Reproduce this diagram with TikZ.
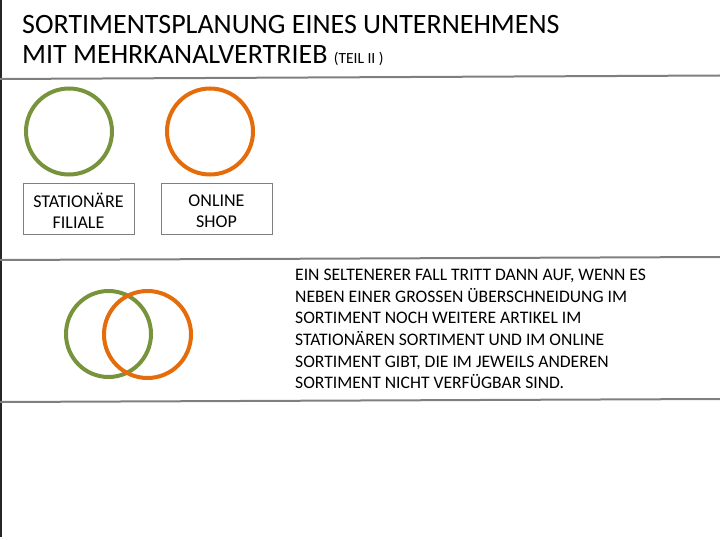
\documentclass[tikz,border=0pt]{standalone}
\usepackage{fontspec}
\setmainfont{Carlito}
\definecolor{olivegreen}{HTML}{77933C}
\definecolor{shoporange}{HTML}{E46C0A}
\definecolor{rulegray}{HTML}{7F7F7F}
\tikzset{
  ring/.style={line width=4pt},
  rule/.style={draw=rulegray, line width=2pt},
  labelbox/.style={draw=rulegray, line width=0.8pt, minimum width=111pt, minimum height=51pt, inner sep=0pt},
  boxtext/.style={align=center, font=\fontsize{18}{21}\selectfont, inner sep=0pt},
  titletext/.style={anchor=base west, inner sep=0pt, font=\fontsize{28}{32}\selectfont},
  bodytext/.style={anchor=north west, inner sep=0pt, align=left, font=\fontsize{17.6}{21.6}\selectfont}
}
\begin{document}
\begin{tikzpicture}[x=1pt,y=-1pt]
\useasboundingbox (0,0) rectangle (720,540);
% frame lines
\coordinate (vtop) at (1,0);
\coordinate (vbot) at (1,537);
\draw[line width=1.5pt, black!85] (vtop) -- (vbot);
\coordinate (r1a) at (0,79);   \coordinate (r1b) at (720,75.5);
\coordinate (r2a) at (0,260);  \coordinate (r2b) at (720,257);
\coordinate (r3a) at (0,402);  \coordinate (r3b) at (720,399);
\draw[rule] (r1a) -- (r1b);
\draw[rule] (r2a) -- (r2b);
\draw[rule] (r3a) -- (r3b);
% title
\node[titletext] (t1) at (22,34) {SORTIMENTSPLANUNG EINES UNTERNEHMENS};
\node[titletext] (t2) at (22,63.5) {MIT MEHRKANALVERTRIEB {\fontsize{15.5}{17}\selectfont (TEIL II )}};
% top circles
\draw[ring, olivegreen] (69,131.5) ellipse [x radius=43, y radius=43];
\draw[ring, shoporange] (210,131.5) ellipse [x radius=43, y radius=43];
% boxes
\node[labelbox] (b1) at (78.5,208.5) {};
\node[labelbox] (b2) at (216.5,208.5) {};
\node[boxtext] (b1t) at ([yshift=-2pt]b1.center) {STATIONÄRE\\FILIALE};
\node[boxtext] (b2t) at ([yshift=-2.5pt]b2.center) {ONLINE\\SHOP};
% venn
\draw[ring, olivegreen] (108.5,334) ellipse [x radius=42.5, y radius=43];
\draw[ring, shoporange] (147.5,334.5) ellipse [x radius=43.5, y radius=43.5];
% paragraph
\node[bodytext] (p) at (295,269) {EIN SELTENERER FALL TRITT DANN AUF, WENN ES\\
NEBEN EINER GROSSEN ÜBERSCHNEIDUNG IM\\
SORTIMENT NOCH WEITERE ARTIKEL IM\\
STATIONÄREN SORTIMENT UND IM ONLINE\\
SORTIMENT GIBT, DIE IM JEWEILS ANDEREN\\
SORTIMENT NICHT VERFÜGBAR SIND.};
\end{tikzpicture}
\end{document}
